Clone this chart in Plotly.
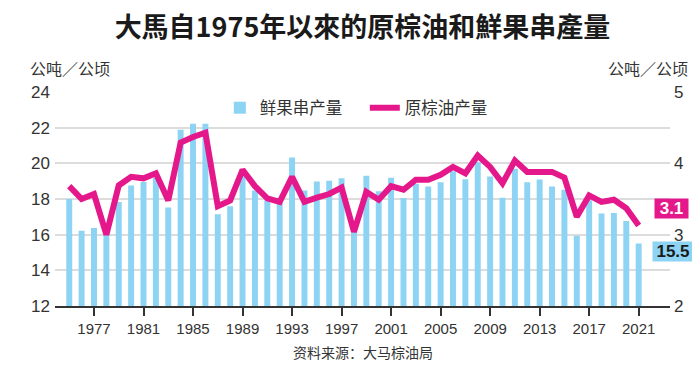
import plotly.graph_objects as go

years = list(range(1975, 2022))
ffb_yield = [18.0, 16.22, 16.37, 16.0, 17.83, 18.76, 18.95, 19.2, 17.52, 21.89, 22.22, 22.22,
             17.15, 17.6, 19.3, 18.48, 17.93, 17.8, 20.33, 18.48, 18.98, 19.02, 19.17, 16.2,
             19.3, 18.43, 19.19, 18.06, 18.85, 18.7, 18.94, 19.56, 19.11, 20.06, 19.26, 18.07,
             19.7, 18.94, 19.09, 18.7, 18.52, 15.94, 17.93, 17.19, 17.22, 16.76, 15.5]
cpo_yield = [3.68, 3.50, 3.57, 3.0, 3.69, 3.81, 3.79, 3.86, 3.48, 4.29, 4.37, 4.43,
             3.40, 3.48, 3.91, 3.68, 3.51, 3.46, 3.81, 3.46, 3.52, 3.57, 3.66, 3.04,
             3.60, 3.49, 3.68, 3.63, 3.77, 3.77, 3.84, 3.95, 3.86, 4.11, 3.95, 3.72,
             4.04, 3.88, 3.88, 3.88, 3.80, 3.25, 3.55, 3.46, 3.49, 3.37, 3.13]
x_ticks = [1977, 1981, 1985, 1989, 1993, 1997, 2001, 2005, 2009, 2013, 2017, 2021]
left_ticks = [12, 14, 16, 18, 20, 22, 24]
right_ticks = [2, 3, 4, 5]

BLUE = "#8dd3f3"
MAGENTA = "#e5188b"
FONT = "Liberation Sans, Arial, Noto Sans CJK SC"
CJK = "Noto Sans CJK SC, Liberation Sans"

fig = go.Figure()
fig.add_trace(go.Bar(x=years, y=ffb_yield, name="鲜果串产量", marker_color=BLUE,
                     marker_line_width=0, width=0.48, yaxis="y"))
fig.add_trace(go.Scatter(x=years, y=cpo_yield, name="原棕油产量", mode="lines",
                         line=dict(color=MAGENTA, width=6), yaxis="y2"))

fig.update_layout(
    width=692, height=363,
    margin=dict(l=47, r=30, t=84, b=65, autoexpand=False),
    paper_bgcolor="white", plot_bgcolor="white",
    showlegend=True,
    legend=dict(orientation="h", x=0.268, y=0.925, xanchor="left", yanchor="middle",
                font=dict(family=CJK, size=16.5, color="#333333"),
                bgcolor="rgba(0,0,0,0)", traceorder="normal", entrywidth=100),
    title=dict(text="大馬自1975年以來的原棕油和鮮果串產量", x=0.5, xref="paper",
               xanchor="center", y=0.946, yanchor="middle", automargin=False,
               font=dict(family="Noto Sans CJK TC, Noto Sans CJK SC", size=27,
                         color="#1a1a1a", weight="bold")),
    bargap=0.5,
    xaxis=dict(range=[1973.85, 2023.53], tickmode="array", tickvals=x_ticks,
               ticktext=[str(v) for v in x_ticks], showgrid=False, zeroline=False,
               showline=True, linecolor="#333333", linewidth=2, automargin=False,
               ticks="outside", ticklen=8, tickwidth=2, tickcolor="#333333",
               tickfont=dict(family=FONT, size=15, color="#333333")),
    yaxis=dict(range=[12, 24], tickmode="array", tickvals=left_ticks,
               showgrid=True, gridcolor="#dcdcdc", gridwidth=1.5, zeroline=False,
               showline=False, ticks="", ticklabelstandoff=4, automargin=False,
               tickfont=dict(family=FONT, size=17, color="#333333")),
    yaxis2=dict(range=[2, 5], tickmode="array", tickvals=right_ticks,
                overlaying="y", side="right", showgrid=False, zeroline=False,
                showline=False, ticks="", ticklabelstandoff=3, automargin=False,
                tickfont=dict(family=FONT, size=17, color="#333333")),
)

fig.add_annotation(text="公吨／公顷", xref="paper", yref="paper", x=-0.044, y=1.113,
                   xanchor="left", yanchor="middle", showarrow=False,
                   font=dict(family=CJK, size=16, color="#333333"))
fig.add_annotation(text="公吨／公顷", xref="paper", yref="paper", x=1.0325, y=1.113,
                   xanchor="right", yanchor="middle", showarrow=False,
                   font=dict(family=CJK, size=16, color="#333333"))
fig.add_annotation(text="资料来源：大马棕油局", xref="paper", yref="paper", x=0.5, y=-0.216,
                   xanchor="center", yanchor="middle", showarrow=False,
                   font=dict(family=CJK, size=14, color="#333333"))
fig.add_annotation(text="<b>3.1</b>", xref="paper", yref="y2", x=1.0, y=3.37,
                   xanchor="center", yanchor="middle", showarrow=False, xshift=1,
                   bgcolor=MAGENTA, borderpad=0, width=33, height=19,
                   font=dict(family=FONT, size=17, color="white"))
fig.add_annotation(text="<b>15.5</b>", xref="paper", yref="y", x=1.0, y=15.08,
                   xanchor="center", yanchor="middle", showarrow=False, xshift=3,
                   bgcolor=BLUE, borderpad=0, width=40, height=19,
                   font=dict(family=FONT, size=17, color="#1a1a1a"))

fig.write_html("out.html")
